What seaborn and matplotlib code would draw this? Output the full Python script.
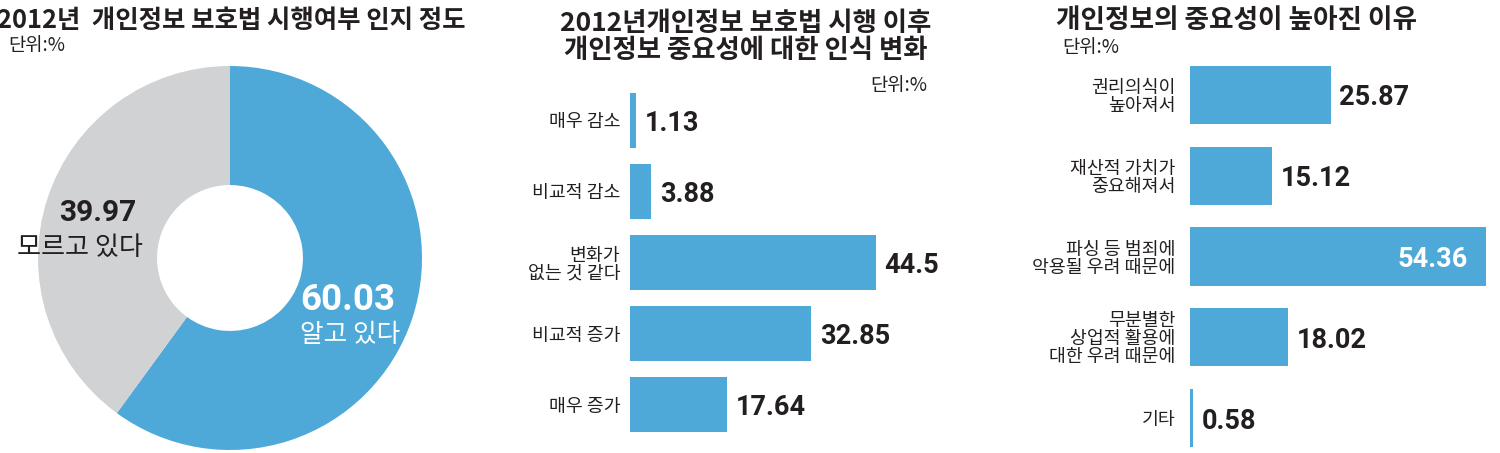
import matplotlib
matplotlib.use('Agg')
import matplotlib.pyplot as plt
from matplotlib import font_manager as fm
import numpy as np
import pandas as pd
import seaborn as sns

# ---------------- data ----------------
aware_labels = ['알고 있다', '모르고 있다']
aware_values = [60.03, 39.97]

change_labels = ['매우 감소', '비교적 감소', '변화가\n없는 것 같다', '비교적 증가', '매우 증가']
change_values = [1.13, 3.88, 44.5, 32.85, 17.64]

reason_labels = ['권리의식이\n높아져서', '재산적 가치가\n중요해져서', '파싱 등 범죄에\n악용될 우려 때문에',
                 '무분별한\n상업적 활용에\n대한 우려 때문에', '기타']
reason_values = [25.87, 15.12, 54.36, 18.02, 0.58]

title_left = '2012년  개인정보 보호법 시행여부 인지 정도'
title_mid = '2012년개인정보 보호법 시행 이후\n개인정보 중요성에 대한 인식 변화'
title_right = '개인정보의 중요성이 높아진 이유'
unit_text = '단위:%'

# ---------------- style ----------------
BLUE = '#4EA9D9'
GRAY = '#D1D2D4'
DARK = '#231F20'

sns.set_theme(style='white')
plt.rcParams['font.family'] = ['Noto Sans CJK KR', 'DejaVu Sans']


def pick(cands):
    names = {f.name for f in fm.fontManager.ttflist}
    for c in cands:
        if c in names:
            return c
    return 'DejaVu Sans'


NUM = pick(['Liberation Sans Narrow', 'Roboto', 'Liberation Sans'])

W, H = 1500, 453
fig = plt.figure(figsize=(W / 100, H / 100), dpi=100)


def box(left, top, right, bottom):
    return [left / W, 1 - bottom / H, (right - left) / W, (bottom - top) / H]


# ---------------- donut ----------------
ax1 = fig.add_axes(box(38, 66, 422, 450))
ax1.pie(aware_values, colors=[BLUE, GRAY], startangle=90, counterclock=False,
        radius=1, wedgeprops=dict(width=0.62, linewidth=0))
ax1.set_xlim(-1, 1)
ax1.set_ylim(-1, 1)
ax1.axis('off')
ax1.text(0.615, -0.20, f'{aware_values[0]:.2f}', color='white', fontsize=26.5, fontweight='bold',
         family=[NUM, 'DejaVu Sans'], ha='center', va='center_baseline')
ax1.text(0.625, -0.40, aware_labels[0], color='white', fontsize=18.5, ha='center', va='center')
ax1.text(-0.69, 0.25, f'{aware_values[1]:.2f}', color=DARK, fontsize=21.5, fontweight='bold',
         family=[NUM, 'DejaVu Sans'], ha='center', va='center_baseline')
ax1.text(-0.78, 0.057, aware_labels[1], color=DARK, fontsize=18.8, ha='center', va='center')


# ---------------- bar panels ----------------
def bar_panel(rect, labels, values, scale_max, bar_w, pad, inside=None):
    ax = fig.add_axes(rect)
    sns.barplot(x=values, y=labels, ax=ax, color=BLUE, saturation=1, width=bar_w,
                orient='h', linewidth=0)
    ax.set_xlim(0, scale_max)
    ax.set_ylim(len(values) - 0.5, -0.5)
    ax.set_xticks([])
    ax.set_xlabel('')
    ax.set_ylabel('')
    ax.tick_params(axis='y', length=0, pad=pad, labelsize=13.2, labelcolor=DARK)
    for lbl in ax.get_yticklabels():
        lbl.set_linespacing(1.0)
    sns.despine(ax=ax, left=True, bottom=True)
    ax.set_facecolor('none')
    for i, v in enumerate(values):
        txt = f'{v:g}'
        if inside is not None and i == inside:
            ax.annotate(txt, xy=(v, i), xytext=(-13, 0), textcoords='offset points',
                        ha='right', va='center_baseline', color='white', fontsize=19.5,
                        fontweight='bold', family=[NUM, 'DejaVu Sans'])
        else:
            ax.annotate(txt, xy=(v, i), xytext=(6, 0), textcoords='offset points',
                        ha='left', va='center_baseline', color=DARK, fontsize=19.5,
                        fontweight='bold', family=[NUM, 'DejaVu Sans'])
    return ax


ax2 = bar_panel(box(630, 84.5, 950, 440.5), change_labels, change_values,
                320 / 5.52, 0.77, 7)
ax3 = bar_panel(box(1190, 54.6, 1500, 458.4), reason_labels, reason_values,
                310 / 5.45, 0.72, 10.5, inside=2)

# ---------------- titles ----------------
fig.text(-3 / W, 1 - 20 / H, title_left, ha='left', va='center', fontsize=18.3,
         fontweight='bold', color=DARK)
fig.text(8 / W, 1 - 46 / H, unit_text, ha='left', va='center', fontsize=13.5, color=DARK)

fig.text(746 / W, 1 - 37 / H, title_mid, ha='center', va='center', fontsize=19,
         fontweight='bold', color=DARK, linespacing=1.0)
fig.text(927 / W, 1 - 85 / H, unit_text, ha='right', va='center', fontsize=13.5, color=DARK)

fig.text(1236 / W, 1 - 20 / H, title_right, ha='center', va='center', fontsize=19.2,
         fontweight='bold', color=DARK)
fig.text(1062 / W, 1 - 48 / H, unit_text, ha='left', va='center', fontsize=13.5, color=DARK)

fig.savefig('out.png', dpi=100, facecolor='white')
